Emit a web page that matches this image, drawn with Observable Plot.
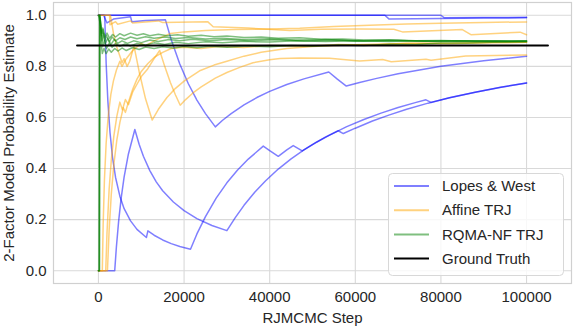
<!DOCTYPE html>
<html>
<head>
<meta charset="utf-8">
<script src="https://cdn.jsdelivr.net/npm/d3@7"></script>
<script src="https://cdn.jsdelivr.net/npm/@observablehq/plot@0.6"></script>
<style>
html,body{margin:0;padding:0;background:#fff;}
#chart{width:574px;height:328px;}
</style>
</head>
<body>
<div id="chart"></div>
<script>
// ---- data ----
const xTicks = [0, 20000, 40000, 60000, 80000, 100000];
const yTicks = [0.0, 0.2, 0.4, 0.6, 0.8, 1.0];
const legendLabels = ["Lopes & West", "Affine TRJ", "RQMA-NF TRJ", "Ground Truth"];

// Lopes & West runs
const lw1 = [[0,1],[80000,1],[80800,0.990],[90000,0.991],[100000,0.992]];
const lw2 = [[0,1],[66900,1],[67900,0.985],[80000,0.9875],[90000,0.989],[100000,0.990]];
const lw3 = [[0,1],[1200,1],[2000,0.97],[3500,0.985],[7500,0.994],[7800,0.975],[11000,0.98],[15650,0.982],
  [17000,0.904],[19000,0.809],[21000,0.732],[23000,0.668],[25000,0.615],[27300,0.563],
  [29000,0.589],[31000,0.615],[34000,0.649],[37000,0.678],[40000,0.702],[44000,0.729],[48000,0.751],[53800,0.778],
  [55800,0.750],[57900,0.723],[61000,0.737],[65000,0.753],[70000,0.771],[75000,0.786],[80000,0.800],
  [85000,0.811],[90000,0.822],[95000,0.831],[100000,0.840]];
const lw4 = [[0,0],[3800,0],[4200,0.095],[4700,0.191],[5300,0.283],[6000,0.367],[7000,0.457],[8500,0.553],
  [9500,0.495],[10500,0.448],[12000,0.392],[13500,0.348],[15000,0.313],[17500,0.269],[20000,0.235],
  [23000,0.204],[26500,0.177],[30000,0.157],[32000,0.209],[34000,0.256],[36500,0.307],[39000,0.351],
  [42000,0.398],[45000,0.438],[48000,0.473],[51000,0.504],[54000,0.531],[58000,0.564],[62000,0.592],
  [66000,0.617],[70000,0.639],[74000,0.658],[76500,0.669],[77700,0.659],[82000,0.677],[88000,0.699],
  [94000,0.718],[100000,0.735]];
const lw5 = [[0,1],[1460,1],[1800,0.811],[2200,0.664],[2700,0.541],[3300,0.442],[4000,0.365],[5000,0.292],
  [6000,0.243],[7500,0.195],[9000,0.162],[11200,0.130],[11550,0.156],[13000,0.139],[15000,0.1205],
  [17000,0.106],[19000,0.095],[21500,0.084],[23000,0.144],[25000,0.212],[27500,0.284],[30000,0.344],
  [32500,0.394],[35000,0.437],[38500,0.488],[40000,0.470],[42000,0.448],[44000,0.473],[45500,0.490],
  [47600,0.469],[50000,0.494],[53000,0.523],[56000,0.548],[57200,0.537],[60000,0.558],[64000,0.586],
  [68000,0.610],[72000,0.632],[77000,0.656],[82000,0.677],[88000,0.699],[94000,0.718],[100000,0.735]];

// Affine TRJ runs
const af1 = [[0,0],[900,0],[1100,0.18],[1400,0.357],[1800,0.5],[2300,0.609],[2900,0.69],[3500,0.743],
  [4200,0.786],[5000,0.82],[5500,0.8],[6500,0.83],[8000,0.862],[10000,0.89],[11000,0.88],[13000,0.9],
  [16800,0.929],[20000,0.935],[25000,0.94],[32000,0.944],[40000,0.946],[47000,0.949],[55000,0.956],
  [63400,0.961],[72000,0.966],[80000,0.969],[90000,0.972],[100000,0.974]];
const af2 = [[0,1],[2600,1],[2700,0.963],[4000,0.975],[4500,0.965],[7500,0.978],[8000,0.97],[14000,0.978],
  [15000,0.972],[25500,0.975],[26800,0.955],[35000,0.95],[44700,0.94],[52000,0.945],[61000,0.946],
  [69000,0.945],[71000,0.935],[85000,0.944],[87000,0.924],[98500,0.934],[100000,0.924]];
const af3 = [[0,0],[1700,0],[2000,0.15],[2500,0.32],[3000,0.433],[3600,0.528],[4300,0.605],[5000,0.66],
  [5600,0.63],[6300,0.67],[7000,0.65],[8000,0.7],[9000,0.73],[10000,0.76],[11500,0.79],[13000,0.83],
  [14300,0.862],[15500,0.799],[16800,0.737],[18000,0.688],[19100,0.648],[20300,0.669],[22000,0.695],
  [24000,0.72],[27300,0.754],[30000,0.776],[33000,0.796],[36100,0.814],[40000,0.826],[42400,0.831],
  [47000,0.833],[54000,0.832],[61000,0.821],[66400,0.827],[68400,0.818],[76500,0.828],[77700,0.824],
  [85800,0.841],[100000,0.844]];
const af4 = [[0,0],[2100,0],[2500,0.16],[3000,0.3],[3600,0.417],[4300,0.512],[5000,0.58],[5800,0.638],
  [6300,0.62],[7000,0.66],[8000,0.71],[9000,0.75],[10000,0.78],[11500,0.81],[13000,0.835],[15000,0.855],
  [17000,0.87],[20000,0.875],[24000,0.87],[28000,0.878],[34000,0.874],[40000,0.882],[48000,0.879],
  [56000,0.886],[64000,0.884],[72000,0.89],[82000,0.889],[92000,0.893],[100000,0.894]];
const af5 = [[0,1],[2800,1],[3500,0.93],[4200,0.88],[4800,0.85],[5500,0.815],[6000,0.83],[6700,0.8],
  [7300,0.82],[8300,0.88],[9500,0.78],[11000,0.673],[12550,0.59],[14000,0.632],[16000,0.678],[18000,0.714],
  [20000,0.742],[23800,0.784],[27000,0.805],[30000,0.82],[34000,0.84],[38000,0.855],[44000,0.87],
  [50000,0.878],[58000,0.884],[66000,0.888],[76000,0.89],[88000,0.892],[100000,0.894]];

// RQMA-NF TRJ runs
const rq1 = [[0,0],[150,0],[250,1],[500,0.97],[800,0.93],[1100,0.945],[1500,0.915],[2000,0.93],[2600,0.91],
  [3300,0.925],[4000,0.915],[5000,0.928],[6000,0.92],[7500,0.93],[9000,0.922],[10500,0.928],[12000,0.92],
  [14000,0.926],[16000,0.92],[18500,0.924],[21000,0.918],[24000,0.922],[27000,0.916],[30000,0.919],
  [34000,0.913],[38000,0.915],[42000,0.91],[47000,0.912],[52000,0.906],[57000,0.907],[62000,0.903],
  [68000,0.904],[74000,0.9],[80000,0.901],[88000,0.898],[94000,0.899],[100000,0.898]];
const rq2 = [[0,0],[200,0],[300,1],[600,0.9],[900,0.85],[1300,0.87],[1800,0.85],[2400,0.868],[3000,0.855],
  [3800,0.87],[4600,0.86],[5500,0.872],[6500,0.862],[8000,0.874],[9500,0.866],[11000,0.876],[13000,0.87],
  [15000,0.877],[17500,0.872],[20000,0.878],[23000,0.873],[26000,0.879],[30000,0.875],[35000,0.88],
  [40000,0.877],[45000,0.882],[50000,0.879],[56000,0.884],[62000,0.882],[68000,0.887],[74000,0.886],
  [80000,0.891],[86000,0.891],[92000,0.894],[100000,0.895]];
const rq3 = [[0,1],[400,0.99],[700,0.92],[1000,0.95],[1400,0.9],[1900,0.92],[2500,0.895],[3200,0.915],
  [4000,0.9],[5000,0.912],[6200,0.905],[7500,0.915],[9000,0.908],[11000,0.916],[13000,0.91],[15500,0.915],
  [18000,0.909],[21000,0.913],[25000,0.907],[29000,0.91],[34000,0.905],[40000,0.908],[46000,0.903],
  [53000,0.905],[60000,0.9],[68000,0.902],[76000,0.898],[84000,0.9],[92000,0.897],[100000,0.899]];
const rq4 = [[0,0],[250,0],[350,1],[650,0.94],[1000,0.88],[1400,0.9],[1900,0.87],[2500,0.89],[3200,0.875],
  [4000,0.89],[5000,0.878],[6200,0.888],[7500,0.88],[9000,0.89],[11000,0.884],[13000,0.892],[15500,0.886],
  [18000,0.894],[21000,0.889],[25000,0.896],[29000,0.892],[34000,0.898],[40000,0.895],[46000,0.9],
  [53000,0.897],[60000,0.9],[68000,0.897],[76000,0.9],[84000,0.898],[92000,0.9],[100000,0.899]];
const rq5 = [[0,1],[500,0.96],[800,0.9],[1200,0.93],[1600,0.89],[2200,0.91],[2900,0.885],[3700,0.905],
  [4500,0.89],[5500,0.9],[6800,0.89],[8200,0.9],[10000,0.893],[12000,0.903],[14000,0.897],[16500,0.905],
  [19000,0.9],[22000,0.906],[26000,0.9],[30000,0.905],[35000,0.9],[41000,0.904],[48000,0.899],[55000,0.902],
  [62000,0.898],[70000,0.901],[78000,0.898],[86000,0.9],[94000,0.898],[100000,0.899]];

const truthX = [-5000, 105000];
const truthValue = 0.882;

// ---- build tables ----
const toRows = (runs, prefix) => runs.flatMap((r, i) => r.map(([x, y]) => ({x, y, run: prefix + i})));
const lwRows = toRows([lw1, lw2, lw3, lw4, lw5], "lw");
const afRows = toRows([af1, af2, af3, af4, af5], "af");
const rqRows = toRows([rq1, rq2, rq3, rq4, rq5], "rq");
const truthRows = truthX.map(x => ({x, y: truthValue}));

const colors = ["#0000ff", "#ffa500", "#008000", "#000000"];
const font = "'Liberation Sans', Arial, sans-serif";

const chart = Plot.plot({
  width: 574,
  height: 328,
  marginLeft: 53,
  marginRight: 3,
  marginTop: 2,
  marginBottom: 45,
  x: {domain: [-10500, 110500]},
  y: {domain: [-0.05, 1.05]},
  style: {fontFamily: font, fontSize: "15px", color: "#262626", background: "#ffffff"},
  marks: [
    Plot.gridX(xTicks, {stroke: "#d9d9d9", strokeOpacity: 1, strokeWidth: 1.1}),
    Plot.gridY(yTicks, {stroke: "#d9d9d9", strokeOpacity: 1, strokeWidth: 1.1}),
    Plot.frame({stroke: "#d0d0d0", strokeWidth: 1.2}),
    Plot.axisX(xTicks, {tickSize: 0, tickPadding: 8, tickFormat: d => String(d), label: null, fontSize: 15}),
    Plot.axisY(yTicks, {tickSize: 0, tickPadding: 7, tickFormat: d3.format(".1f"), label: null, fontSize: 15}),
    Plot.line(lwRows, {x: "x", y: "y", z: "run", stroke: colors[0], strokeOpacity: 0.5, strokeWidth: 1.5}),
    Plot.line(afRows, {x: "x", y: "y", z: "run", stroke: colors[1], strokeOpacity: 0.5, strokeWidth: 1.5}),
    Plot.line(rqRows, {x: "x", y: "y", z: "run", stroke: colors[2], strokeOpacity: 0.5, strokeWidth: 1.5}),
    Plot.line(truthRows, {x: "x", y: "y", stroke: colors[3], strokeWidth: 2}),
    Plot.text(["RJMCMC Step"], {frameAnchor: "bottom", dy: 35, text: d => d, textAnchor: "middle", lineAnchor: "middle", fontSize: 15, fill: "#262626"}),
    Plot.text(["2-Factor Model Probability Estimate"], {frameAnchor: "left", dx: -44, rotate: -90, text: d => d, textAnchor: "middle", lineAnchor: "middle", fontSize: 15, fill: "#262626"})
  ]
});
document.getElementById("chart").appendChild(chart);

// ---- legend (inside the plot, lower right) ----
const svg = d3.select(chart);
const lg = svg.append("g").attr("font-family", font).attr("font-size", 15).attr("text-anchor", "start");
lg.append("rect").attr("x", 388.5).attr("y", 173.5).attr("width", 175).attr("height", 102)
  .attr("rx", 4).attr("fill", "#ffffff").attr("fill-opacity", 0.8).attr("stroke", "#d8d8d8");
legendLabels.forEach((lab, i) => {
  const yy = 186 + i * 24.2;
  lg.append("line").attr("x1", 394).attr("x2", 429).attr("y1", yy).attr("y2", yy)
    .attr("stroke", colors[i]).attr("stroke-opacity", i < 3 ? 0.5 : 1).attr("stroke-width", 2);
  lg.append("text").attr("x", 442).attr("y", yy).attr("dy", "0.35em").attr("text-anchor", "start")
    .attr("fill", "#262626").text(lab);
});
</script>
</body>
</html>
